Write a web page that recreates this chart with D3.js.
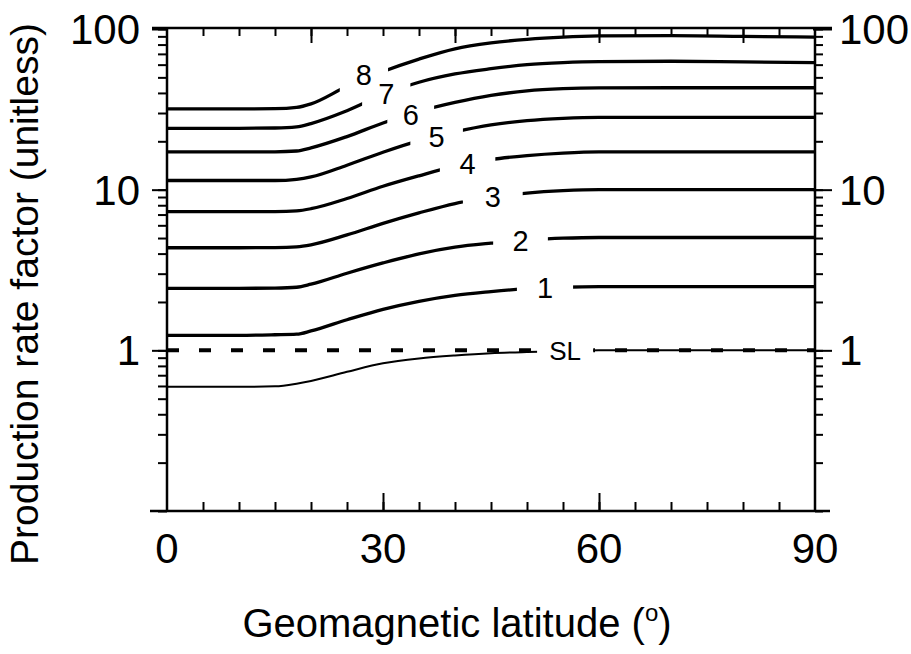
<!DOCTYPE html>
<html>
<head>
<meta charset="utf-8">
<title>Production rate factor vs geomagnetic latitude</title>
<style>
body { margin: 0; background: #fff; }
text { font-family: "Liberation Sans", Arial, sans-serif; fill: #000; }
.tick text { display: none; }
</style>
</head>
<body>
<svg width="911" height="654"></svg>
<script src="https://d3js.org/d3.v7.min.js"></script>
<script>
var latitudes = [0, 10, 15, 18, 20, 25, 30, 35, 40, 45, 50, 55, 60, 70, 80, 90];

// production rate factor, sea level and altitudes 1..8 km
var curveSL = [0.593, 0.593, 0.597, 0.62, 0.645, 0.735, 0.83, 0.89, 0.93, 0.96, 0.975, 0.99, 1.0, 1.0, 1.0, 1.0];
var curve1 = [1.24, 1.24, 1.25, 1.26, 1.32, 1.55, 1.80, 2.02, 2.20, 2.32, 2.42, 2.47, 2.49, 2.49, 2.49, 2.49];
var curve2 = [2.43, 2.43, 2.44, 2.47, 2.58, 3.02, 3.50, 3.99, 4.39, 4.65, 4.86, 4.99, 5.04, 5.04, 5.04, 5.04];
var curve3 = [4.35, 4.35, 4.36, 4.41, 4.54, 5.23, 6.17, 7.17, 8.20, 8.98, 9.52, 9.85, 10.0, 10.0, 10.0, 10.0];
var curve4 = [7.29, 7.29, 7.30, 7.38, 7.61, 8.81, 10.5, 12.2, 14.0, 15.4, 16.3, 16.9, 17.2, 17.2, 17.2, 17.2];
var curve5 = [11.4, 11.4, 11.4, 11.6, 12.0, 14.2, 17.1, 20.2, 22.9, 25.3, 26.9, 27.8, 28.2, 28.2, 28.2, 28.2];
var curve6 = [17.2, 17.2, 17.2, 17.4, 18.2, 21.4, 26.0, 30.7, 34.9, 38.6, 41.2, 42.5, 43.0, 43.1, 43.1, 43.1];
var curve7 = [24.1, 24.1, 24.2, 24.6, 25.8, 31.0, 39.0, 46.6, 52.5, 56.6, 60.0, 61.8, 62.7, 63.0, 62.4, 61.8];
var curve8 = [31.8, 31.8, 31.9, 32.5, 34.2, 44.0, 54.4, 65.0, 75.3, 81.9, 86.3, 89.1, 90.5, 91.0, 90.0, 89.0];

var curveNames = ["SL", "1", "2", "3", "4", "5", "6", "7", "8"];
var curveValues = [curveSL, curve1, curve2, curve3, curve4, curve5, curve6, curve7, curve8];
// where each line is broken for its label (deg)
var gapFrom = [51.4, 48.6, 45.3, 41.1, 37.9, 33.8, 30.6, 27.1, 24.0];
var gapTo   = [59.2, 56.4, 52.9, 49.4, 45.6, 41.1, 37.1, 33.8, 30.7];

var xLabels = [0, 30, 60, 90];
var yLabels = [1, 10, 100];
var refValue = 1;   // dashed sea-level reference

var svg = d3.select("svg");

var x = d3.scaleLinear().domain([0, 90]).range([167, 815]);
var y = d3.scaleLog().domain([0.1, 100]).range([511, 29]);

// value along a curve at any latitude (log-linear between read points)
function valueAt(vals, lat) {
  var i = Math.min(d3.bisectRight(latitudes, lat) - 1, latitudes.length - 2);
  var t = (lat - latitudes[i]) / (latitudes[i + 1] - latitudes[i]);
  return Math.exp(Math.log(vals[i]) * (1 - t) + Math.log(vals[i + 1]) * t);
}

var defs = svg.append("defs");
curveNames.forEach(function(n, i) {
  var cp = defs.append("clipPath").attr("id", "gap" + i);
  cp.append("rect").attr("x", 0).attr("y", 0)
    .attr("width", x(gapFrom[i])).attr("height", 654);
  cp.append("rect").attr("x", x(gapTo[i])).attr("y", 0)
    .attr("width", 911 - x(gapTo[i])).attr("height", 654);
});

// ticks
var minorY = y.ticks();
var stepTicks = d3.range(5, 90, 5);

function styleAxis(g) {
  g.select(".domain").remove();
  g.selectAll(".tick line").attr("stroke", "#000").attr("stroke-width", 2);
}

// left: outward
svg.append("g").attr("transform", "translate(167,0)")
  .call(d3.axisLeft(y).tickValues(minorY).tickSize(9).tickFormat("")).call(styleAxis);
svg.append("g").attr("transform", "translate(167,0)")
  .call(d3.axisLeft(y).tickValues(yLabels).tickSize(15).tickFormat("")).call(styleAxis);
// right: outward
svg.append("g").attr("transform", "translate(815,0)")
  .call(d3.axisRight(y).tickValues(minorY).tickSize(8).tickFormat("")).call(styleAxis);
svg.append("g").attr("transform", "translate(813,0)")
  .call(d3.axisRight(y).tickValues(yLabels).tickSize(19).tickFormat("")).call(styleAxis);
// bottom: inward
svg.append("g").attr("transform", "translate(0,511)")
  .call(d3.axisTop(x).tickValues(stepTicks).tickSize(9).tickFormat("")).call(styleAxis);
svg.append("g").attr("transform", "translate(0,511)")
  .call(d3.axisTop(x).tickValues([30, 60]).tickSize(18).tickFormat("")).call(styleAxis);
// top: inward
svg.append("g").attr("transform", "translate(0,28)")
  .call(d3.axisBottom(x).tickValues(stepTicks).tickSize(8).tickFormat("")).call(styleAxis);
svg.append("g").attr("transform", "translate(0,28)")
  .call(d3.axisBottom(x).tickValues([20, 40, 60, 80]).tickSize(15).tickFormat("")).call(styleAxis);

// frame
var frame = svg.append("g").attr("stroke", "#000").attr("stroke-width", 2.5);
frame.append("line").attr("x1", 152).attr("x2", 832).attr("y1", 28).attr("y2", 28);
frame.append("line").attr("x1", 150).attr("x2", 830).attr("y1", 511).attr("y2", 511);
frame.append("line").attr("x1", 167).attr("x2", 167).attr("y1", 28).attr("y2", 511);
frame.append("line").attr("x1", 815).attr("x2", 815).attr("y1", 28).attr("y2", 511);

// tick labels
svg.append("g").selectAll("text").data(yLabels).enter().append("text")
  .attr("x", 140).attr("y", function(d) { return y(d) + 15; })
  .attr("text-anchor", "end").attr("font-size", 42).text(function(d) { return d; });
svg.append("g").selectAll("text").data(yLabels).enter().append("text")
  .attr("x", 839).attr("y", function(d) { return y(d) + 15; })
  .attr("text-anchor", "start").attr("font-size", 42).text(function(d) { return d; });
svg.append("g").selectAll("text").data(xLabels).enter().append("text")
  .attr("x", function(d) { return x(d); }).attr("y", 563)
  .attr("text-anchor", "middle").attr("font-size", 42).text(function(d) { return d; });

// curves
var line = d3.line()
  .x(function(d) { return x(d[0]); })
  .y(function(d) { return y(d[1]); })
  .curve(d3.curveMonotoneX);

curveValues.forEach(function(vals, i) {
  var pts = latitudes.map(function(l, j) { return [l, vals[j]]; });
  svg.append("path")
    .attr("d", line(pts))
    .attr("fill", "none")
    .attr("stroke", "#000")
    .attr("stroke-width", i == 0 ? 2 : 3.3)
    .attr("clip-path", "url(#gap" + i + ")");
  var mid = (gapFrom[i] + gapTo[i]) / 2;
  svg.append("text")
    .attr("x", x(mid))
    .attr("y", y(valueAt(vals, mid)) - (i == 8 ? 5 : 0))
    .attr("dy", "0.36em")
    .attr("text-anchor", "middle")
    .attr("font-size", i == 0 ? 26 : 29)
    .text(curveNames[i]);
});

// dashed reference at 1
svg.append("line")
  .attr("x1", x(0)).attr("x2", x(90))
  .attr("y1", y(refValue)).attr("y2", y(refValue))
  .attr("stroke", "#000").attr("stroke-width", 4)
  .attr("stroke-dasharray", "12,20")
  .attr("clip-path", "url(#gap0)");

// axis titles
var xt = svg.append("text").attr("x", 457).attr("y", 637)
  .attr("text-anchor", "middle").attr("font-size", 40);
xt.append("tspan").text("Geomagnetic latitude (");
xt.append("tspan").attr("font-size", 24).attr("dy", -16).text("o");
xt.append("tspan").attr("dy", 16).text(")");

svg.append("text")
  .attr("transform", "translate(38,294) rotate(-90)")
  .attr("text-anchor", "middle").attr("font-size", 39)
  .text("Production rate factor (unitless)");
</script>
</body>
</html>
